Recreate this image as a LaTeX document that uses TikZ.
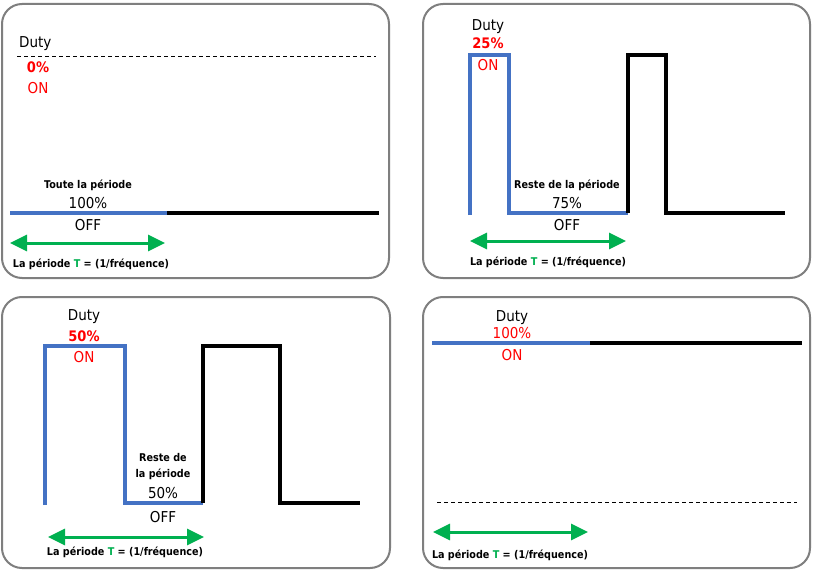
\documentclass[tikz,border=0pt]{standalone}
\usepackage{fontspec}
\setmainfont{DejaVu Sans Condensed}
\usetikzlibrary{arrows.meta}
\definecolor{wblue}{HTML}{4472C4}
\definecolor{wgreen}{HTML}{00B050}
\definecolor{wred}{HTML}{FF0000}
\definecolor{wgray}{HTML}{7F7F7F}
\begin{document}
\begin{tikzpicture}[x=1pt,y=-1pt,
  panel/.style={draw=wgray,line width=2pt,rounded corners=20pt},
  bigtxt/.style={font=\fontsize{15}{16}\selectfont,inner sep=0pt},
  redtxt/.style={bigtxt,text=wred},
  redbold/.style={redtxt,font=\bfseries\fontsize{14.5}{16}\selectfont},
  smalltxt/.style={font=\bfseries\fontsize{10.7}{16}\selectfont,inner sep=0pt,align=center},
  onwave/.style={draw=wblue,line width=4pt},
  offwave/.style={draw=black,line width=4pt},
  dashline/.style={draw=black,line width=0.8pt,dash pattern=on 4pt off 3pt},
  garrow/.style={draw=wgreen,line width=3pt,{Triangle[length=17pt,width=16pt]}-{Triangle[length=17pt,width=16pt]}},
]
\useasboundingbox (0,0) rectangle (813,572);
\fill[white] (0,0) rectangle (813,572);

% ---------- panel 1 : 0% ----------
\draw[panel] (2,4) rectangle (389,278);
\node[bigtxt,anchor=west] (p1duty) at (19,44) {Duty};
\coordinate (p1dl) at (17,56);
\coordinate (p1dr) at (376,56);
\draw[dashline] (p1dl) -- (p1dr);
\node[redbold] (p1pct) at (38,67) {0\%};
\node[redtxt] (p1on) at (38,88) {ON};
\node[smalltxt] (p1rest) at (88,185) {Toute la période};
\node[bigtxt] (p1val) at (88,203) {100\%};
\coordinate (p1a) at (10,213);
\coordinate (p1b) at (167,213);
\coordinate (p1c) at (379,213);
\draw[onwave] (p1a) -- (p1b);
\draw[offwave] (p1b) -- (p1c);
\node[bigtxt] (p1off) at (88,225) {OFF};
\coordinate (p1al) at (10,243);
\coordinate (p1ar) at (165,243);
\draw[garrow] (p1al) -- (p1ar);
\node[smalltxt] (p1per) at (91,264) {La période \textcolor{wgreen}{T} = (1/fréquence)};

% ---------- panel 2 : 25% ----------
\draw[panel] (423,4) rectangle (810,278);
\node[bigtxt] (p2duty) at (488,27) {Duty};
\node[redbold] (p2pct) at (488,43) {25\%};
\coordinate (p2a) at (470,215);
\coordinate (p2b) at (470,55);
\coordinate (p2c) at (509,55);
\coordinate (p2d) at (509,213);
\coordinate (p2e) at (628,213);
\coordinate (p2f) at (628,55);
\coordinate (p2g) at (666,55);
\coordinate (p2h) at (666,213);
\coordinate (p2i) at (785,213);
\draw[onwave] (p2a) -- (p2b) -- (p2c) -- (p2d) -- (p2e);
\draw[offwave] (p2e) -- (p2f) -- (p2g) -- (p2h) -- (p2i);
\node[redtxt] (p2on) at (488,65) {ON};
\node[smalltxt] (p2rest) at (567,185) {Reste de la période};
\node[bigtxt] (p2val) at (567,203) {75\%};
\node[bigtxt] (p2off) at (567,225) {OFF};
\coordinate (p2al) at (470,241);
\coordinate (p2ar) at (626,241);
\draw[garrow] (p2al) -- (p2ar);
\node[smalltxt] (p2per) at (548,262) {La période \textcolor{wgreen}{T} = (1/fréquence)};

% ---------- panel 3 : 50% ----------
\draw[panel] (2,297) rectangle (390,568);
\node[bigtxt] (p3duty) at (84,317) {Duty};
\node[redbold] (p3pct) at (84,336) {50\%};
\coordinate (p3a) at (45,505);
\coordinate (p3b) at (45,346);
\coordinate (p3c) at (125,346);
\coordinate (p3d) at (125,503);
\coordinate (p3e) at (203,503);
\coordinate (p3f) at (203,346);
\coordinate (p3g) at (280,346);
\coordinate (p3h) at (280,503);
\coordinate (p3i) at (360,503);
\draw[onwave] (p3a) -- (p3b) -- (p3c) -- (p3d) -- (p3e);
\draw[offwave] (p3e) -- (p3f) -- (p3g) -- (p3h) -- (p3i);
\node[redtxt] (p3on) at (84,357) {ON};
\node[smalltxt] (p3rest) at (163,467) {Reste de\\la période};
\node[bigtxt] (p3val) at (163,493) {50\%};
\node[bigtxt] (p3off) at (163,517) {OFF};
\coordinate (p3al) at (48,537);
\coordinate (p3ar) at (204,537);
\draw[garrow] (p3al) -- (p3ar);
\node[smalltxt] (p3per) at (125,552) {La période \textcolor{wgreen}{T} = (1/fréquence)};

% ---------- panel 4 : 100% ----------
\draw[panel] (423,297) rectangle (810,568);
\node[bigtxt] (p4duty) at (512,318) {Duty};
\node[redtxt] (p4pct) at (512,333) {100\%};
\coordinate (p4a) at (432,343);
\coordinate (p4b) at (590,343);
\coordinate (p4c) at (802,343);
\draw[onwave] (p4a) -- (p4b);
\draw[offwave] (p4b) -- (p4c);
\node[redtxt] (p4on) at (512,355) {ON};
\coordinate (p4dl) at (437,502);
\coordinate (p4dr) at (797,502);
\draw[dashline] (p4dl) -- (p4dr);
\coordinate (p4al) at (433,532);
\coordinate (p4ar) at (588,532);
\draw[garrow] (p4al) -- (p4ar);
\node[smalltxt] (p4per) at (510,555) {La période \textcolor{wgreen}{T} = (1/fréquence)};
\end{tikzpicture}
\end{document}
